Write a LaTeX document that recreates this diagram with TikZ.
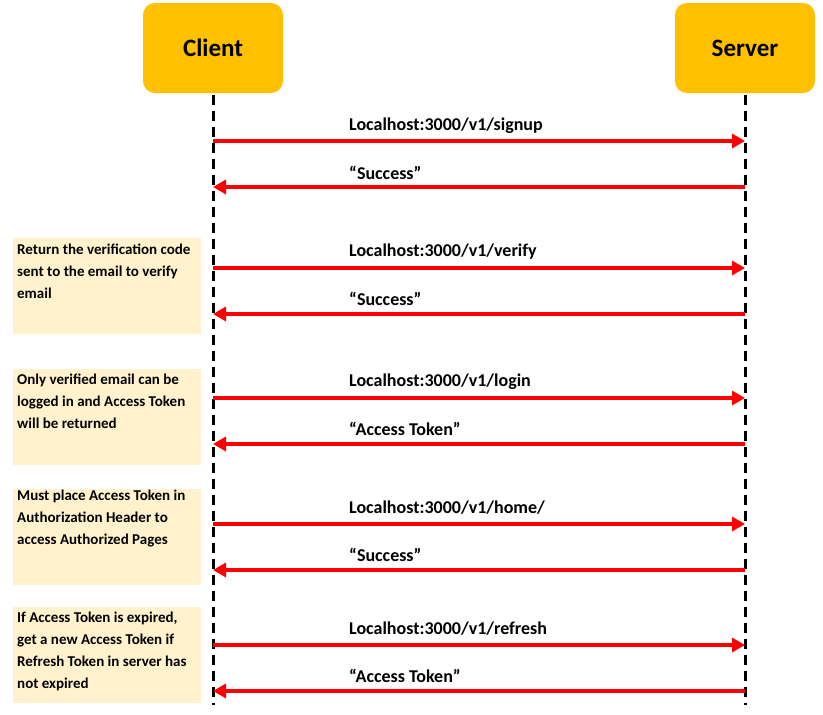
\documentclass[tikz,border=0pt]{standalone}
\usepackage{fontspec}
\setmainfont{Carlito}
\usetikzlibrary{arrows.meta}
\definecolor{boxgold}{HTML}{FFC000}
\definecolor{notefill}{HTML}{FFF2CC}
\definecolor{arrred}{HTML}{FF0000}
\begin{document}
\begin{tikzpicture}[x=1pt,y=-1pt,
  actor/.style={fill=boxgold,rounded corners=12pt,minimum width=140pt,minimum height=90pt,inner sep=0pt,font=\fontsize{25}{28}\selectfont\bfseries},
  lifeline/.style={line width=3pt,dash pattern=on 10pt off 6pt},
  msg/.style={draw=arrred,line width=4pt,-{Triangle[length=13pt,width=14pt]}},
  msglabel/.style={anchor=west,inner sep=0pt,font=\fontsize{18}{20}\selectfont\bfseries},
  notebox/.style={fill=notefill,draw=none,minimum width=188pt,minimum height=96pt,anchor=north west,inner sep=0pt},
  notetext/.style={anchor=north west,inner sep=0pt,align=left,font=\fontsize{15}{22}\selectfont\bfseries}
]
\useasboundingbox (0,0) rectangle (823,715);
\node[actor] (client) at (213,48) {Client};
\node[actor] (server) at (745,48) {Server};
\coordinate (cb) at (213,705);
\coordinate (sb) at (745,705);
\draw[lifeline] (client.south) ++(0,2) -- (cb);
\draw[lifeline] (server.south) ++(0,2) -- (sb);

\foreach \n/\y in {a/141,b/187,c/268,d/314,e/398,f/444,g/524,h/570,i/645,j/691}{
  \coordinate (c\n) at (213,\y);
  \coordinate (s\n) at (745,\y);
}
\draw[msg] (ca) -- (sa);
\draw[msg] (sb) -- (cb);
\draw[msg] (cc) -- (sc);
\draw[msg] (sd) -- (cd);
\draw[msg] (ce) -- (se);
\draw[msg] (sf) -- (cf);
\draw[msg] (cg) -- (sg);
\draw[msg] (sh) -- (ch);
\draw[msg] (ci) -- (si);
\draw[msg] (sj) -- (cj);

\node[msglabel] (la) at (349,126) {Localhost:3000/v1/signup};
\node[msglabel] (lb) at (349,173) {“Success”};
\node[msglabel] (lc) at (349,252) {Localhost:3000/v1/verify};
\node[msglabel] (ld) at (349,299) {“Success”};
\node[msglabel] (le) at (349,382) {Localhost:3000/v1/login};
\node[msglabel] (lf) at (349,429) {“Access Token”};
\node[msglabel] (lg) at (349,508) {Localhost:3000/v1/home/};
\node[msglabel] (lh) at (349,555) {“Success”};
\node[msglabel] (li) at (349,629) {Localhost:3000/v1/refresh};
\node[msglabel] (lj) at (349,676) {“Access Token”};

\node[notebox] (n1) at (13,238) {};
\node[notetext] (t1) at (17,244) {Return the verification code\\sent to the email to verify\\email};
\node[notebox] (n2) at (13,369) {};
\node[notetext] (t2) at (17,374) {Only verified email can be\\logged in and Access Token\\will be returned};
\node[notebox] (n3) at (13,489) {};
\node[notetext] (t3) at (17,490) {Must place Access Token in\\Authorization Header to\\access Authorized Pages};
\node[notebox] (n4) at (13,607) {};
\node[notetext] (t4) at (17,612) {If Access Token is expired,\\get a new Access Token if\\Refresh Token in server has\\not expired};
\end{tikzpicture}
\end{document}
